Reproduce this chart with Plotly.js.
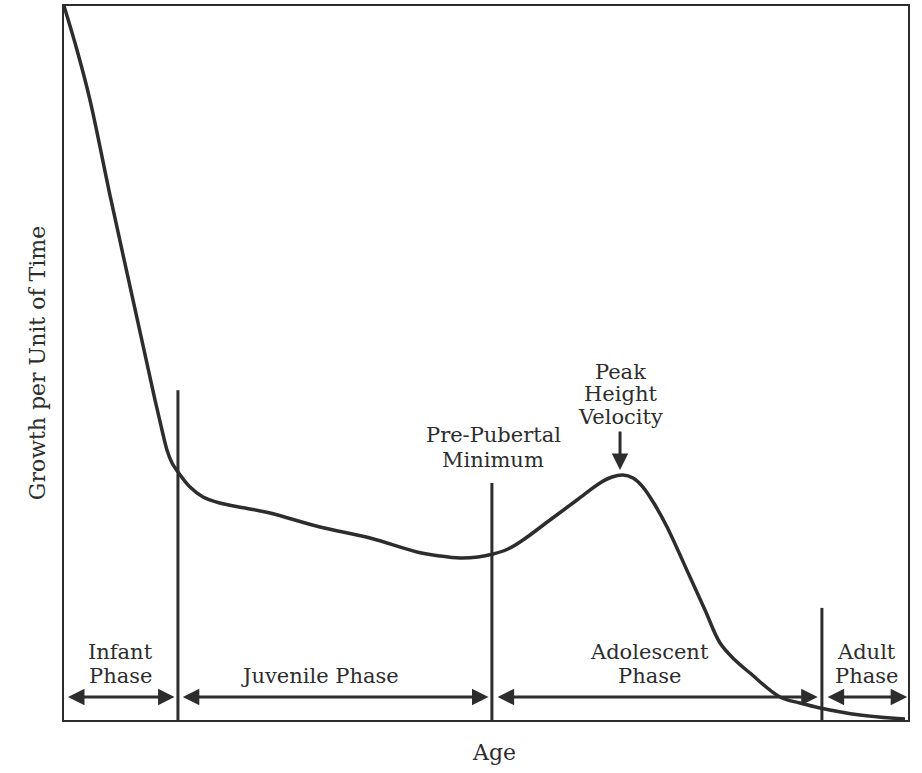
<!DOCTYPE html>
<html>
<head>
<meta charset="utf-8">
<script src="https://cdn.plot.ly/plotly-3.0.1.min.js"></script>
<style>html,body{margin:0;padding:0;background:#fff;}#chart{width:922px;height:773px;}</style>
</head>
<body>
<div id="chart"></div>
<script>
// Growth velocity curve (age and growth in relative units, 0-100)
const ageValues = [0, 1.54, 3.08, 5.57, 8.18, 10.78, 11.61, 12.20, 12.80, 13.51, 14.93, 16.47, 18.48, 21.45, 24.41, 30.33, 36.26, 41.82, 44.55, 46.92, 49.05, 50.83, 52.61, 54.38, 57.58, 60.78, 63.51, 64.93, 66.23, 67.42, 68.60, 70.02, 71.45, 74.17, 75.95, 77.73, 79.50, 81.28, 84.83, 87.20, 89.57, 94.31, 99.64];
const growthValues = [100, 93.84, 86.83, 72.83, 58.82, 44.82, 40.62, 37.82, 36.00, 34.73, 32.63, 31.23, 30.39, 29.69, 28.99, 27.03, 25.49, 23.53, 22.97, 22.69, 22.83, 23.25, 23.95, 25.21, 28.01, 30.81, 33.19, 34.03, 34.31, 33.89, 32.63, 30.11, 27.03, 20.03, 15.41, 10.78, 8.40, 6.58, 3.22, 2.38, 1.68, 0.70, 0.14];

// Phase boundaries
const boundaryAges = [13.5, 50.7, 89.8];
const boundaryTops = [46.2, 33.2, 15.7];

// Phase spans
const phaseNames = [["Infant", "Phase"], ["Juvenile Phase"], ["Adolescent", "Phase"], ["Adult", "Phase"]];
const phaseStart = [0.3, 13.9, 51.2, 90.3];
const phaseEnd = [13.1, 50.3, 89.3, 99.9];
const phaseArrowLevel = 3.22;

// Callouts
const peakAge = 65.88;
const peakTip = 35.0;
const peakTail = 40.6;

const ink = '#2d2d2d';
const fontFam = 'DejaVu Serif, serif';
const fs = 21;

const traces = [{
  x: ageValues, y: growthValues, mode: 'lines', type: 'scatter',
  line: {color: ink, width: 3.5, shape: 'spline', smoothing: 1},
  hoverinfo: 'skip', showlegend: false
}];
boundaryAges.forEach((a, i) => {
  traces.push({x: [a, a], y: [-0.3, boundaryTops[i]], mode: 'lines', type: 'scatter',
    line: {color: ink, width: 3}, hoverinfo: 'skip', showlegend: false, cliponaxis: false});
});

const annotations = [];
// phase arrows
phaseStart.forEach((s, i) => {
  annotations.push({x: phaseEnd[i], y: phaseArrowLevel, ax: s, ay: phaseArrowLevel,
    xref: 'x', yref: 'y', axref: 'x', ayref: 'y', text: '', showarrow: true,
    arrowhead: 2, startarrowhead: 2, arrowside: 'end+start', arrowsize: 1.1, startarrowsize: 1.1,
    arrowwidth: 3, arrowcolor: ink});
});
// phase labels
const labelCenters = [6.64, 30.33, 69.43, 95.14];
const lineLevels = [[9.52, 6.16], [6.16], [9.52, 6.16], [9.52, 6.16]];
phaseNames.forEach((lines, i) => {
  lines.forEach((t, j) => {
    annotations.push({x: labelCenters[i], y: lineLevels[i][j], xref: 'x', yref: 'y', text: t,
      showarrow: false, xanchor: 'center', yanchor: 'middle', font: {family: fontFam, size: fs, color: ink}});
  });
});
// Pre-pubertal minimum
[['Pre-Pubertal', 39.9], ['Minimum', 36.4]].forEach(([t, y]) => {
  annotations.push({x: 50.83, y: y, xref: 'x', yref: 'y', text: t, showarrow: false,
    xanchor: 'center', yanchor: 'middle', font: {family: fontFam, size: fs, color: ink}});
});
// Peak height velocity
[['Peak', 48.7], ['Height', 45.6], ['Velocity', 42.4]].forEach(([t, y]) => {
  annotations.push({x: peakAge, y: y, xref: 'x', yref: 'y', text: t, showarrow: false,
    xanchor: 'center', yanchor: 'middle', font: {family: fontFam, size: fs, color: ink}});
});
annotations.push({x: peakAge, y: peakTip, ax: peakAge, ay: peakTail, xref: 'x', yref: 'y', axref: 'x', ayref: 'y',
  text: '', showarrow: true, arrowhead: 2, arrowsize: 1.1, arrowwidth: 3, arrowcolor: ink});
// x-axis title (placed slightly right of centre, as in the original)
annotations.push({x: 0.51, y: -0.045, xref: 'paper', yref: 'paper', text: 'Age', showarrow: false,
  xanchor: 'center', yanchor: 'middle', font: {family: fontFam, size: 22, color: ink}});

const layout = {
  width: 922, height: 773,
  margin: {l: 64, r: 14, t: 6, b: 53},
  paper_bgcolor: '#fff', plot_bgcolor: '#fff',
  showlegend: false,
  xaxis: {range: [0, 100], showgrid: false, zeroline: false, showticklabels: false, ticks: '',
    showline: true, mirror: true, linecolor: ink, linewidth: 2},
  yaxis: {range: [0, 100], showgrid: false, zeroline: false, showticklabels: false, ticks: '',
    showline: true, mirror: true, linecolor: ink, linewidth: 2,
    title: {text: 'Growth per Unit of Time', font: {family: fontFam, size: 22, color: ink}, standoff: 10}},
  annotations: annotations
};

Plotly.newPlot('chart', traces, layout, {displayModeBar: false, staticPlot: true});
</script>
</body>
</html>
